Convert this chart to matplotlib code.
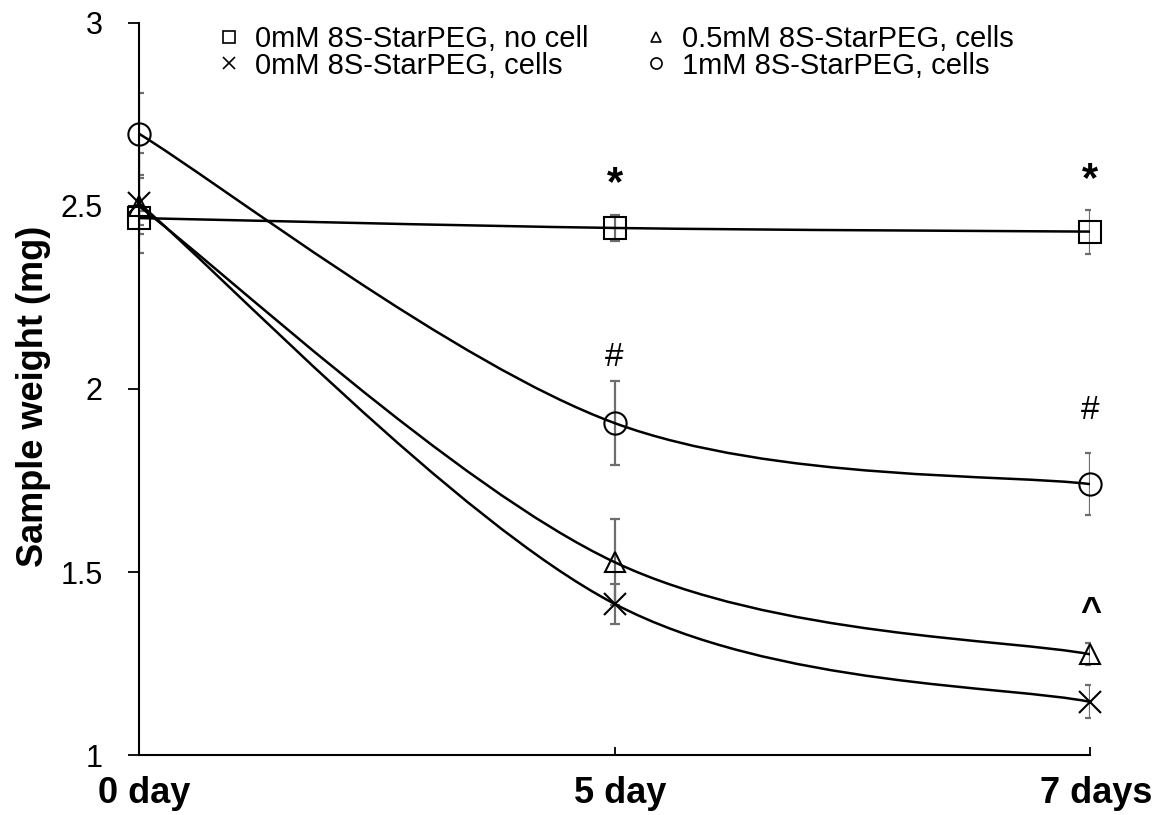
import numpy as np
import matplotlib
matplotlib.use("Agg")
import matplotlib.pyplot as plt
import matplotlib.transforms as mtransforms
from matplotlib.path import Path
from matplotlib.patches import PathPatch
from matplotlib.lines import Line2D

plt.rcParams['font.family'] = ['Liberation Sans', 'DejaVu Sans']

# data
days = ["0 day", "5 day", "7 days"]
no_cell = [2.467, 2.44, 2.43]
no_cell_err = [0.02, 0.035, 0.06]
cells_0 = [2.508, 1.413, 1.145]
cells_0_err = [0.137, 0.055, 0.045]
cells_05 = [2.50, 1.527, 1.275]
cells_05_err = [0.077, 0.118, 0.03]
cells_1 = [2.698, 1.907, 1.74]
cells_1_err = [0.112, 0.115, 0.085]

labels = ["0mM 8S-StarPEG, no cell", "0mM 8S-StarPEG, cells",
          "0.5mM 8S-StarPEG, cells", "1mM 8S-StarPEG, cells"]
markers = ["s", "x", "^", "o"]
sizes = [16, 16, 14.5, 16]

# significance marks (text, category index, y)
marks = [("*", 1, 2.56), ("*", 2, 2.57), ("#", 1, 2.087), ("#", 2, 1.94), ("^", 2, 1.39)]


def smooth_path(xs, ys):
    # excel-like smoothed line: cubic bezier through the points
    pts = list(zip(xs, ys))
    verts = [pts[0]]
    codes = [Path.MOVETO]
    n = len(pts)
    for i in range(n - 1):
        p0 = np.array(pts[max(i - 1, 0)])
        p1 = np.array(pts[i])
        p2 = np.array(pts[i + 1])
        p3 = np.array(pts[min(i + 2, n - 1)])
        c1 = p1 + (p2 - p0) / 6.0
        c2 = p2 - (p3 - p1) / 6.0
        verts += [tuple(c1), tuple(c2), tuple(p2)]
        codes += [Path.CURVE4] * 3
    return Path(verts, codes)


fig = plt.figure(figsize=(11.75, 8.15), dpi=100)
ax = fig.add_axes([0.118, 0.0736, 0.810, 0.8982])

x = np.arange(len(days))
series = [(no_cell, no_cell_err), (cells_0, cells_0_err),
          (cells_05, cells_05_err), (cells_1, cells_1_err)]

handles = []
for (vals, err), m, ms, lab in zip(series, markers, sizes, labels):
    ax.errorbar(x, vals, yerr=err, fmt="none", ecolor="#6e6e6e",
                elinewidth=1.6, capsize=3.6, capthick=1.6, zorder=2)
    ax.add_patch(PathPatch(smooth_path(x, vals), facecolor="none",
                           edgecolor="black", lw=1.8, zorder=3))
    ax.plot(x, vals, linestyle="none", marker=m, markersize=ms,
            markerfacecolor="none", markeredgecolor="black",
            markeredgewidth=1.5, clip_on=False, zorder=4)
    handles.append(Line2D([], [], linestyle="none", marker=m, markersize=ms * 0.5,
                          markerfacecolor="none", markeredgecolor="black",
                          markeredgewidth=1.2, label=lab))

for txt, i, yv in marks:
    if txt == "*":
        ax.text(i, yv, txt, ha="center", va="center", fontsize=30, fontweight="bold")
    elif txt == "^":
        ax.text(i, yv, txt, ha="center", va="center", fontsize=26, fontweight="bold")
    else:
        ax.text(i, yv, txt, ha="center", va="center", fontsize=24)

ax.set_xlim(0, 2)
ax.set_ylim(1, 3)
ax.set_yticks([1, 1.5, 2, 2.5, 3])
ax.set_yticklabels(["1", "1.5", "2", "2.5", "3"])
ax.set_xticks(x)
ax.set_xticklabels(days, fontweight="bold", fontsize=26)
ax.tick_params(axis="y", direction="out", length=8, width=1.3, labelsize=22, pad=18)
ax.tick_params(axis="x", direction="in", length=6, width=1.3, pad=15)
shift = mtransforms.ScaledTranslation(6 / 100, 0, fig.dpi_scale_trans)
for lbl in ax.get_xticklabels():
    lbl.set_transform(lbl.get_transform() + shift)
ax.spines["top"].set_visible(False)
ax.spines["right"].set_visible(False)
ax.spines["left"].set_linewidth(1.5)
ax.spines["bottom"].set_linewidth(1.5)
ax.set_ylabel("Sample weight (mg)", fontsize=26, fontweight="bold")
ax.yaxis.set_label_coords(-0.092, 0.49)

ax.legend(handles=handles, ncol=2, loc="upper left",
          bbox_to_anchor=(217 / 1175, 1 - 25 / 815), bbox_transform=fig.transFigure,
          frameon=False, fontsize=21, handlelength=0.8, handletextpad=0.5,
          columnspacing=1.9, labelspacing=-0.05, borderpad=0, borderaxespad=0)

fig.savefig("out.png", dpi=100)
